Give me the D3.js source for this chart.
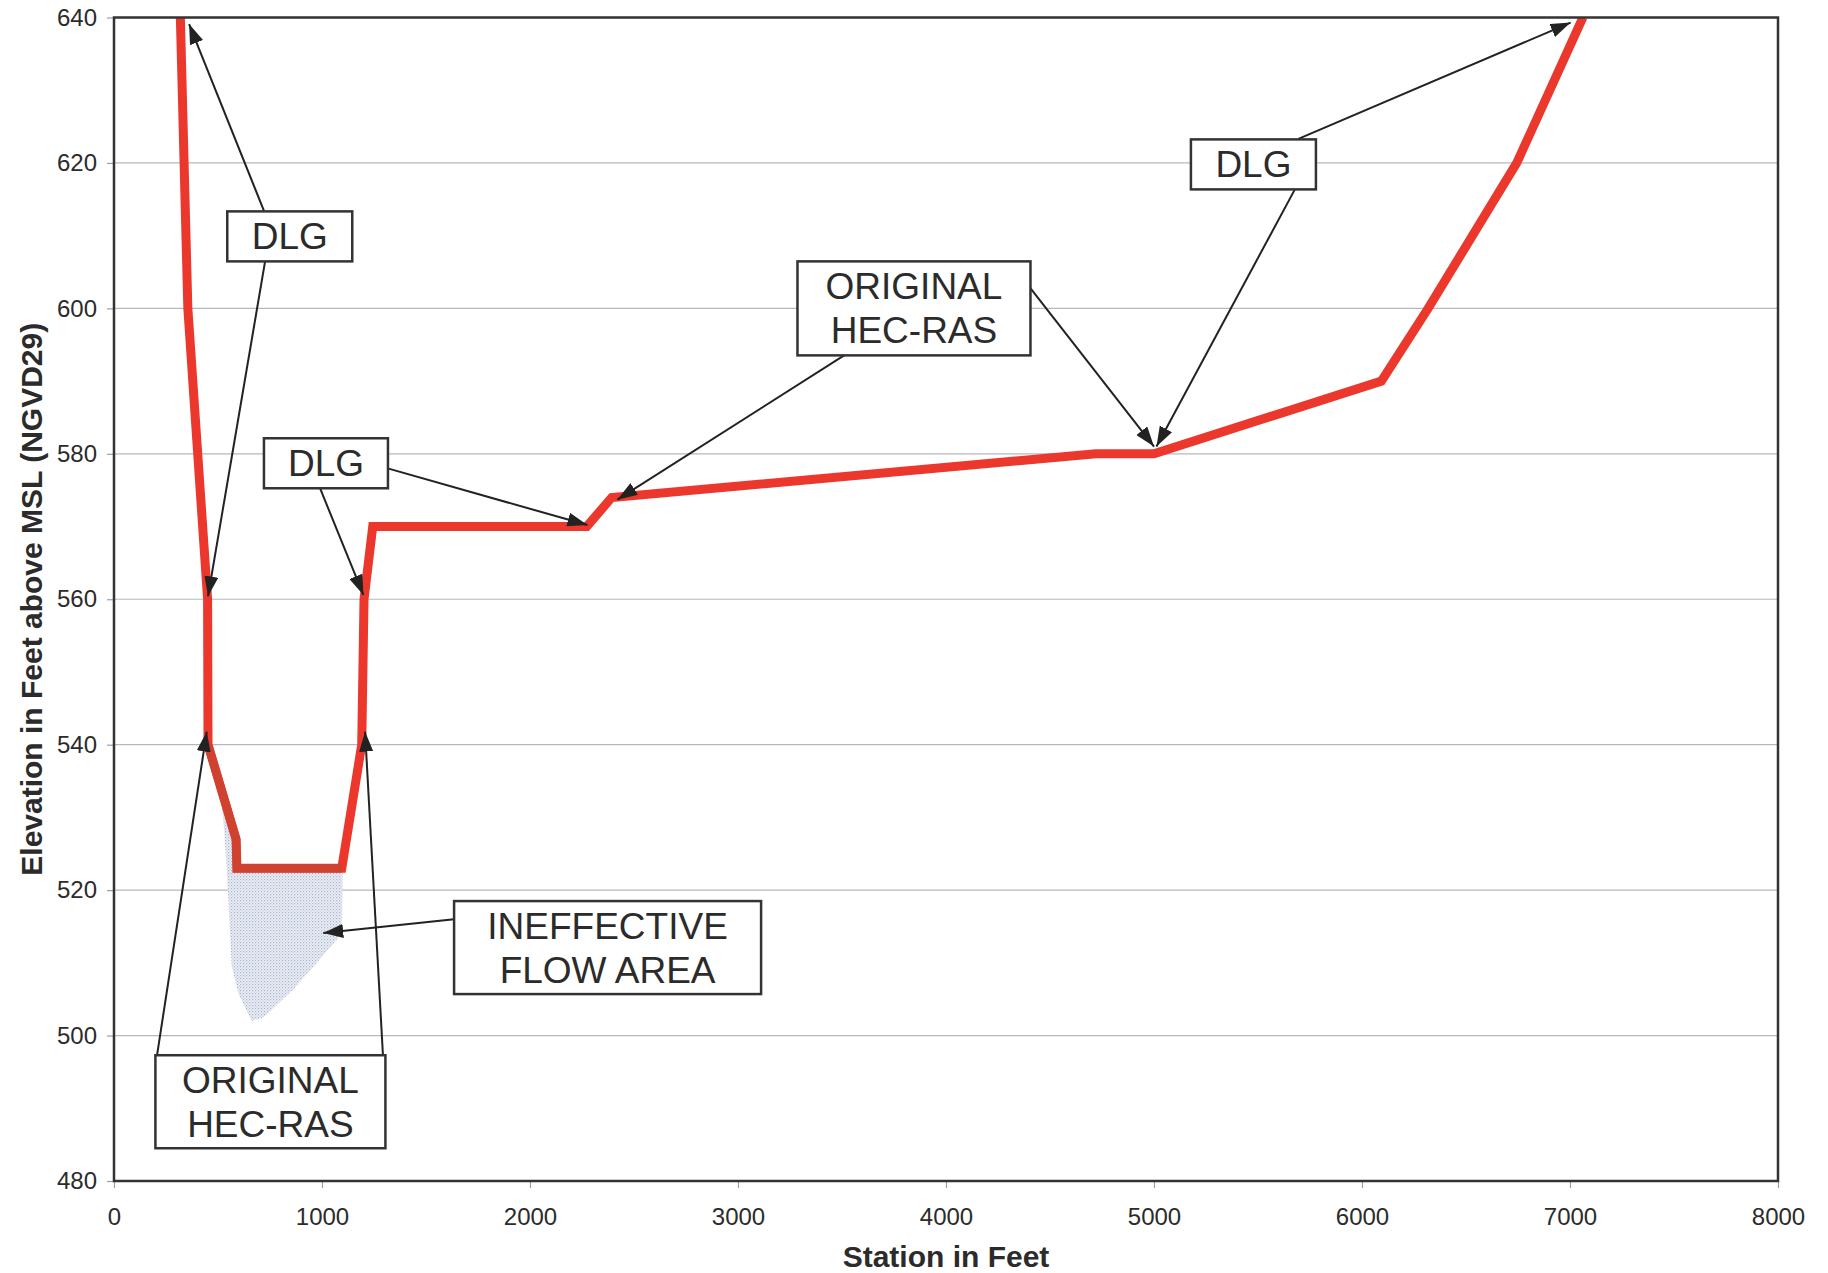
<!DOCTYPE html>
<html>
<head>
<meta charset="utf-8">
<script src="https://cdn.jsdelivr.net/npm/d3@7/dist/d3.min.js"></script>
<style>
  html, body { margin: 0; padding: 0; background: #ffffff; }
  svg { display: block; }
  text { font-family: "Liberation Sans", Arial, sans-serif; fill: #2b2b2b; }
</style>
</head>
<body>
<svg id="chart" width="1828" height="1273"></svg>
<script>
// ---------------- DATA ----------------
const stations   = [319, 355, 450, 452, 587, 591, 1095, 1191, 1202, 1244, 2273, 2393, 4721, 5000, 6093, 6318, 6744, 7062];
const elevations = [640, 600, 560, 540, 527, 523, 523, 540, 560, 570, 570, 574, 580, 580, 590, 600, 620, 640];

// original HEC-RAS channel portion (drawn darker over the red)
const channelStations   = [452, 587, 591, 1095];
const channelElevations = [540, 527, 523, 523];

// ineffective flow area outline
const areaStations   = [500, 587, 591, 1099, 1097, 1080, 975, 867, 720, 662, 598, 566, 545, 530, 510];
const areaElevations = [537, 527, 523, 523, 516, 513.5, 510, 506.5, 502.5, 502, 505.8, 509.5, 521.4, 528, 535];

const xTicks = [0, 1000, 2000, 3000, 4000, 5000, 6000, 7000, 8000];
const yTicks = [480, 500, 520, 540, 560, 580, 600, 620, 640];

const xTitle = "Station in Feet";
const yTitle = "Elevation in Feet above MSL (NGVD29)";

// annotation labels: centre in data units
const boxLabels   = [["DLG"], ["DLG"], ["ORIGINAL", "HEC-RAS"], ["DLG"], ["INEFFECTIVE", "FLOW AREA"], ["ORIGINAL", "HEC-RAS"]];
const boxStations = [845, 1019, 3846, 5478, 2373, 752];
const boxElevs    = [609.9, 578.7, 600.0, 619.8, 512.1, 490.9];

// arrows: tail -> tip in data units
const arrowTailStations = [721, 726, 990, 1316, 3514, 4400, 5694, 5678, 1635, 207, 1293];
const arrowTailElevs    = [613.4, 606.4, 575.3, 578.0, 593.6, 603.0, 623.3, 616.4, 516.0, 497.3, 497.3];
const arrowTipStations  = [361, 452, 1199, 2276, 2420, 5000, 7003, 5012, 1006, 446, 1207];
const arrowTipElevs     = [639.1, 560.4, 560.6, 570.2, 573.7, 581.0, 639.3, 581.0, 514.1, 541.8, 541.8];

// ---------------- LAYOUT ----------------
const svg = d3.select("#chart");
const mL = 114, mR = 1778, mT = 17.5, mB = 1181;

const x = d3.scaleLinear().domain([0, 8000]).range([mL, mR]);
const y = d3.scaleLinear().domain([480, 640]).range([mB, mT]);

const defs = svg.append("defs");
defs.append("clipPath").attr("id", "plotclip")
  .append("rect").attr("x", mL).attr("y", mT).attr("width", mR - mL).attr("height", mB - mT);

const pat = defs.append("pattern").attr("id", "stipple")
  .attr("patternUnits", "userSpaceOnUse").attr("width", 3).attr("height", 3);
pat.append("rect").attr("width", 3).attr("height", 3).attr("fill", "#edf0f6");
pat.append("rect").attr("x", 0).attr("y", 0).attr("width", 1.2).attr("height", 1.2).attr("fill", "#a7b3ca");
pat.append("rect").attr("x", 1.5).attr("y", 1.5).attr("width", 1.2).attr("height", 1.2).attr("fill", "#bcc6d8");

defs.append("marker").attr("id", "arrowhead")
  .attr("viewBox", "0 0 20 14").attr("refX", 20).attr("refY", 7)
  .attr("markerUnits", "userSpaceOnUse")
  .attr("markerWidth", 20).attr("markerHeight", 14)
  .attr("orient", "auto")
  .append("path").attr("d", "M0,0 L20,7 L0,14 Z").attr("fill", "#222");

// gridlines
svg.append("g").selectAll("line").data(yTicks.filter(t => t > 480 && t < 640)).join("line")
  .attr("x1", mL).attr("x2", mR)
  .attr("y1", d => y(d)).attr("y2", d => y(d))
  .attr("stroke", "#b5b8c2").attr("stroke-width", 1.2);

// axes (ticks + labels)
const yAxis = d3.axisLeft(y).tickValues(yTicks).tickSize(7).tickPadding(10).tickFormat(d3.format("d"));
const gy = svg.append("g").attr("transform", `translate(${mL},0)`).call(yAxis);
gy.select(".domain").remove();
gy.selectAll(".tick line").attr("stroke", "#9a9ea8").attr("stroke-width", 1.2);
gy.selectAll(".tick text").attr("font-size", 24).attr("font-family", "Liberation Sans, Arial, sans-serif").attr("fill", "#333");

const xAxis = d3.axisBottom(x).tickValues(xTicks).tickSize(7).tickPadding(20).tickFormat(d3.format("d"));
const gx = svg.append("g").attr("transform", `translate(0,${mB})`).call(xAxis);
gx.select(".domain").remove();
gx.selectAll(".tick line").attr("stroke", "#9a9ea8").attr("stroke-width", 1.2);
gx.selectAll(".tick text").attr("font-size", 24).attr("font-family", "Liberation Sans, Arial, sans-serif").attr("fill", "#333");

// ineffective flow area
const areaPts = areaStations.map((s, i) => [x(s), y(areaElevations[i])]);
svg.append("path")
  .attr("d", d3.line().curve(d3.curveLinearClosed)(areaPts))
  .attr("fill", "url(#stipple)").attr("stroke", "none");

// profile line
const line = d3.line().x(d => x(d[0])).y(d => y(d[1]));
const plot = svg.append("g").attr("clip-path", "url(#plotclip)");
plot.append("path")
  .attr("d", line(stations.map((s, i) => [s, elevations[i]])))
  .attr("fill", "none").attr("stroke", "#ec372c").attr("stroke-width", 9)
  .attr("stroke-linejoin", "miter");
plot.append("path")
  .attr("d", line(channelStations.map((s, i) => [s, channelElevations[i]])))
  .attr("fill", "none").attr("stroke", "#cf422f").attr("stroke-width", 8.5)
  .attr("stroke-linejoin", "miter");

// frame
svg.append("rect").attr("x", mL).attr("y", mT).attr("width", mR - mL).attr("height", mB - mT)
  .attr("fill", "none").attr("stroke", "#333").attr("stroke-width", 2.5);

// arrows
svg.append("g").selectAll("line").data(arrowTailStations.map((s, i) => i)).join("line")
  .attr("x1", i => x(arrowTailStations[i])).attr("y1", i => y(arrowTailElevs[i]))
  .attr("x2", i => x(arrowTipStations[i])).attr("y2", i => y(arrowTipElevs[i]))
  .attr("stroke", "#222").attr("stroke-width", 2)
  .attr("marker-end", "url(#arrowhead)");

// boxes
const boxW = [125, 124, 233, 125, 307, 230];
const boxH = [50, 50, 94, 50, 93, 93];
const fs = 37, lineGap = 44;
boxLabels.forEach((lines, i) => {
  const cx = x(boxStations[i]), cy = y(boxElevs[i]);
  const g = svg.append("g");
  g.append("rect")
    .attr("x", cx - boxW[i] / 2).attr("y", cy - boxH[i] / 2)
    .attr("width", boxW[i]).attr("height", boxH[i])
    .attr("fill", "#fff").attr("stroke", "#333").attr("stroke-width", 2.5);
  const n = lines.length;
  lines.forEach((t, j) => {
    const base = cy + fs * 0.35 + (j - (n - 1) / 2) * lineGap;
    g.append("text").attr("x", cx).attr("y", base)
      .attr("text-anchor", "middle").attr("font-size", fs).attr("fill", "#2b2b2b").text(t);
  });
});

// axis titles
svg.append("text").attr("x", (mL + mR) / 2).attr("y", 1267)
  .attr("text-anchor", "middle").attr("font-size", 30).attr("font-weight", "bold").attr("fill", "#333")
  .text(xTitle);
svg.append("text")
  .attr("transform", `translate(42,${(mT + mB) / 2}) rotate(-90)`)
  .attr("text-anchor", "middle").attr("font-size", 30).attr("font-weight", "bold").attr("fill", "#333")
  .text(yTitle);
</script>
</body>
</html>
